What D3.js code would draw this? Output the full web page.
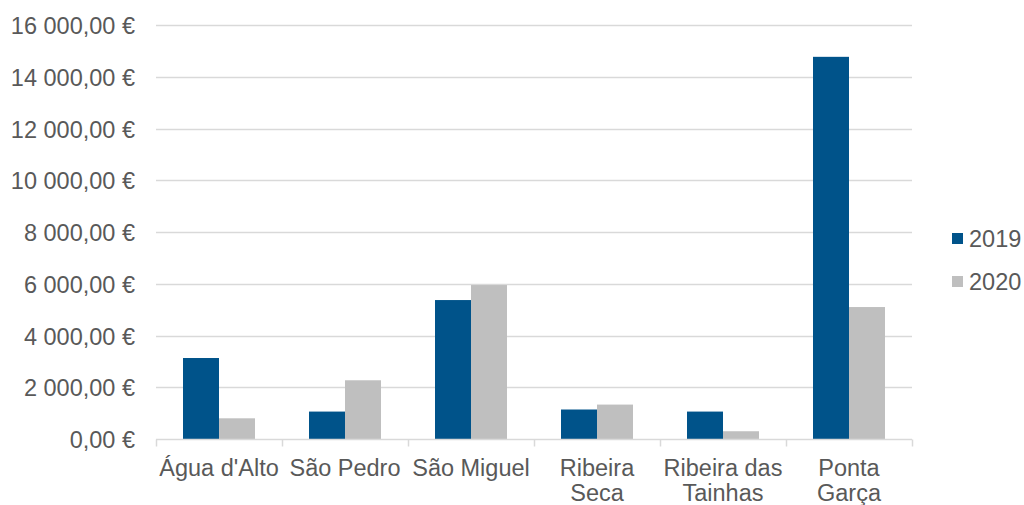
<!DOCTYPE html>
<html>
<head>
<meta charset="utf-8">
<script src="https://cdn.jsdelivr.net/npm/d3@7"></script>
<style>
  html, body { margin: 0; padding: 0; background: #fff; }
  svg { display: block; font-family: "Liberation Sans", Arial, sans-serif; }
</style>
</head>
<body>
<svg id="chart" width="1024" height="505"></svg>
<script>
// Receitas por freguesia, 2019 vs 2020
const categories = [["Água d'Alto"], ["São Pedro"], ["São Miguel"], ["Ribeira", "Seca"], ["Ribeira das", "Tainhas"], ["Ponta", "Garça"]];
const seriesNames = ["2019", "2020"];
const values2019 = [3130, 1060, 5370, 1140, 1060, 14770];
const values2020 = [800, 2270, 5950, 1330, 300, 5100];
const yTicks = [0, 2000, 4000, 6000, 8000, 10000, 12000, 14000, 16000];

const colors = { "2019": "#00538A", "2020": "#BFBFBF" };
const textColor = "#595959";
const fontSize = 23.5;

const svg = d3.select("#chart");
const margin = { left: 156, right: 112, top: 25, bottom: 66 };
const width = 1024, height = 505;

const keys = categories.map(c => c.join(" "));
const x = d3.scaleBand().domain(keys).range([margin.left, width - margin.right]).paddingInner(0).paddingOuter(0);
const x1 = d3.scaleBand().domain(seriesNames).range([0, x.bandwidth()]).paddingOuter(0.75).paddingInner(0);
const y = d3.scaleLinear().domain([0, 16000]).range([height - margin.bottom, margin.top]);

const fmt = v => d3.format(",.2f")(v).replace(/,/g, " ").replace(".", ",") + " €";

// gridlines
svg.append("g").selectAll("line").data(yTicks.slice(1)).join("line")
  .attr("x1", margin.left).attr("x2", width - margin.right)
  .attr("y1", d => Math.round(y(d)) + 0.5).attr("y2", d => Math.round(y(d)) + 0.5)
  .attr("stroke", "#D9D9D9").attr("stroke-width", 1.5);

// y labels
svg.append("g").selectAll("text").data(yTicks).join("text")
  .attr("x", 135).attr("y", d => y(d) + 1).attr("dy", "0.35em")
  .attr("text-anchor", "end").attr("font-size", fontSize).attr("fill", textColor)
  .text(fmt);

// bars
const rows = keys.map((k, i) => ({ key: k, vals: [values2019[i], values2020[i]] }));
const groups = svg.append("g").selectAll("g").data(rows).join("g")
  .attr("transform", d => `translate(${x(d.key)},0)`);
groups.selectAll("rect").data(d => d.vals.map((v, j) => ({ s: seriesNames[j], v }))).join("rect")
  .attr("x", d => x1(d.s)).attr("width", x1.bandwidth())
  .attr("y", d => y(d.v)).attr("height", d => y(0) - y(d.v))
  .attr("fill", d => colors[d.s]);

// x axis line and ticks
const axisY = Math.round(y(0)) + 0.5;
svg.append("line").attr("x1", margin.left).attr("x2", width - margin.right)
  .attr("y1", axisY).attr("y2", axisY).attr("stroke", "#D9D9D9").attr("stroke-width", 1.5);
const tickXs = keys.map(k => x(k)).concat([width - margin.right]);
svg.append("g").selectAll("line").data(tickXs).join("line")
  .attr("x1", d => Math.round(d) + 0.5).attr("x2", d => Math.round(d) + 0.5)
  .attr("y1", axisY).attr("y2", axisY + 7)
  .attr("stroke", "#D9D9D9").attr("stroke-width", 1.5);

// category labels
const lbl = svg.append("g").selectAll("text").data(categories).join("text")
  .attr("x", (d, i) => x(keys[i]) + x.bandwidth() / 2)
  .attr("y", 476).attr("text-anchor", "middle")
  .attr("font-size", fontSize).attr("fill", textColor);
lbl.selectAll("tspan").data(d => d).join("tspan")
  .attr("x", function () { return d3.select(this.parentNode).attr("x"); })
  .attr("dy", (d, i) => i === 0 ? 0 : 25)
  .text(d => d);

// legend
const legend = svg.append("g").selectAll("g").data(seriesNames).join("g")
  .attr("transform", (d, i) => `translate(952,${233 + i * 43})`);
legend.append("rect").attr("width", 11).attr("height", 11).attr("fill", d => colors[d]);
legend.append("text").attr("x", 17).attr("y", 6).attr("dy", "0.35em")
  .attr("font-size", fontSize).attr("fill", textColor).text(d => d);
</script>
</body>
</html>
